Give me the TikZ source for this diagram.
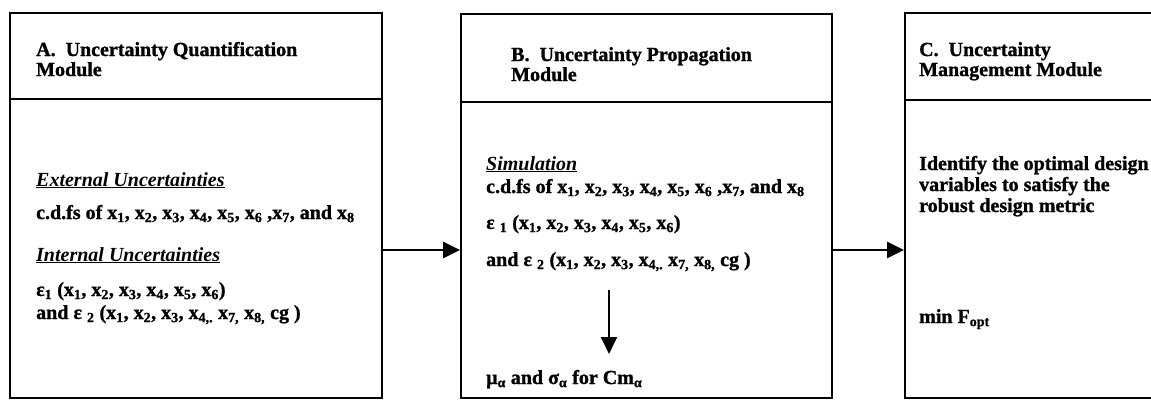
\documentclass[tikz,border=0pt]{standalone}
\usepackage{fontspec}
\setmainfont{Liberation Serif}[BoldFeatures={FakeBold=1.2}]
\usetikzlibrary{arrows.meta}
\newcommand{\sbs}[1]{\textsubscript{#1}}
\newcommand{\uhead}[1]{\underline{\textit{#1}}}
\begin{document}
\begin{tikzpicture}[x=1pt,y=-1pt,
  box/.style={draw, line width=1.8pt, inner sep=0pt},
  divider/.style={line width=1.6pt},
  txt/.style={inner sep=0pt, anchor=base west, font=\fontsize{20}{22}\selectfont\bfseries},
  harr/.style={line width=2.4pt, -{Triangle[length=17pt,width=16pt]}},
  varr/.style={line width=1.8pt, -{Triangle[length=17pt,width=16pt]}}]
\useasboundingbox (0,0) rectangle (1151,400);
% boxes
\node[box, minimum width=372pt, minimum height=385pt] (A) at (196,205.5) {};
\node[box, minimum width=371pt, minimum height=384pt] (B) at (646.5,206) {};
\node[box, minimum width=260pt, minimum height=385pt] (C) at (1035,205.5) {};
\draw[divider] (A.west |- 0,99) -- (A.east |- 0,99);
\draw[divider] (B.west |- 0,102) -- (B.east |- 0,102);
\draw[divider] (C.west |- 0,100) -- (C.east |- 0,100);
% A texts
\node[txt] (ah1) at (36,56) {A.\ \ Uncertainty Quantification};
\node[txt] (ah2) at (36,76) {Module};
\node[txt] (aext) at (36,186) {\uhead{External Uncertainties}};
\node[txt] (acdf) at (36,219) {c.d.fs of x\sbs{1}, x\sbs{2}, x\sbs{3}, x\sbs{4}, x\sbs{5}, x\sbs{6} ,x\sbs{7}, and x\sbs{8}};
\node[txt] (aint) at (36,261) {\uhead{Internal Uncertainties}};
\node[txt] (aeps1) at (36,296) {ε\sbs{1} (x\sbs{1}, x\sbs{2}, x\sbs{3}, x\sbs{4}, x\sbs{5}, x\sbs{6})};
\node[txt] (aeps2) at (36,319) {and ε \sbs{2} (x\sbs{1}, x\sbs{2}, x\sbs{3}, x\sbs{4,.} x\sbs{7,} x\sbs{8,} cg )};
% B texts
\node[txt] (bh1) at (511,61) {B.\ \ Uncertainty Propagation};
\node[txt] (bh2) at (511,81) {Module};
\node[txt] (bsim) at (486,170) {\uhead{Simulation}};
\node[txt] (bcdf) at (486,193) {c.d.fs of x\sbs{1}, x\sbs{2}, x\sbs{3}, x\sbs{4}, x\sbs{5}, x\sbs{6} ,x\sbs{7}, and x\sbs{8}};
\node[txt] (beps1) at (486,229) {ε \sbs{1} (x\sbs{1}, x\sbs{2}, x\sbs{3}, x\sbs{4}, x\sbs{5}, x\sbs{6})};
\node[txt] (beps2) at (486,266) {and ε \sbs{2} (x\sbs{1}, x\sbs{2}, x\sbs{3}, x\sbs{4,.} x\sbs{7,} x\sbs{8,} cg )};
\node[txt] (bmu) at (486,384) {μ\sbs{α} and σ\sbs{α} for Cm\sbs{α}};
% C texts
\node[txt] (ch1) at (919,56) {C.\ \ Uncertainty};
\node[txt] (ch2) at (919,76) {Management Module};
\node[txt] (cid1) at (919,170) {Identify the optimal design};
\node[txt] (cid2) at (919,191) {variables to satisfy the};
\node[txt] (cid3) at (919,212) {robust design metric};
\node[txt] (cmin) at (919,323) {min F\sbs{opt}};
% connectors
\coordinate (ay) at (0,250);
\draw[harr] (A.east |- ay) -- (B.west |- ay);
\draw[harr] (B.east |- ay) -- (C.west |- ay);
\coordinate (d1) at (609,290);
\coordinate (d2) at (609,354);
\draw[varr] (d1) -- (d2);
\end{tikzpicture}
\end{document}
